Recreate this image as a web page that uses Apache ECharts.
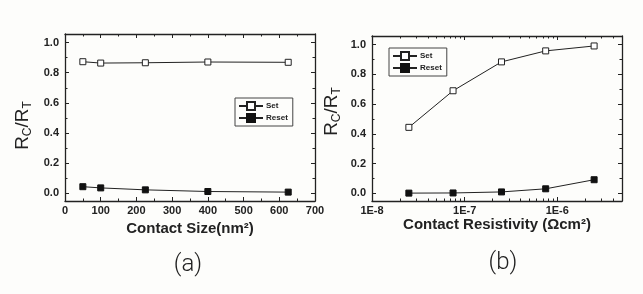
<!DOCTYPE html>
<html>
<head>
<meta charset="utf-8">
<script src="https://cdn.jsdelivr.net/npm/echarts@6/dist/echarts.min.js"></script>
<style>
html, body { margin: 0; padding: 0; background: #fdfdfb; }
#main { width: 643px; height: 294px; }
</style>
</head>
<body>
<div id="main"></div>
<script>
// (a) contact size
var sizeX = [50, 100, 225, 400, 625];
var sizeSet = [0.873, 0.864, 0.866, 0.871, 0.869];
var sizeReset = [0.043, 0.035, 0.022, 0.011, 0.007];
var sizeTicks = [0, 100, 200, 300, 400, 500, 600, 700];
var sizeMinor = [50, 150, 250, 350, 450, 550, 650];

// (b) contact resistivity
var resX = [2.5e-8, 7.5e-8, 2.5e-7, 7.5e-7, 2.5e-6];
var resSet = [0.443, 0.689, 0.883, 0.957, 0.990];
var resReset = [0.001, 0.002, 0.009, 0.030, 0.091];
var resTicks = [1e-8, 1e-7, 1e-6];
var resMinor = [2e-8, 3e-8, 4e-8, 5e-8, 6e-8, 7e-8, 8e-8, 9e-8,
                2e-7, 3e-7, 4e-7, 5e-7, 6e-7, 7e-7, 8e-7, 9e-7,
                2e-6, 3e-6, 4e-6];

// ratio axis
var yTicks = [0, 0.2, 0.4, 0.6, 0.8, 1.0];
var yMinor = [0.1, 0.3, 0.5, 0.7, 0.9];

var ink = '#222';
var font = 'Liberation Sans, Arial, sans-serif';

function pairs(xs, ys) {
    return xs.map(function (x, i) { return [x, ys[i]]; });
}

// one axis: ticks only, or ticks + line + labels
function makeAxis(grid, type, min, max, pos, ticks, len, withLine, label) {
    return {
        type: type,
        gridIndex: grid,
        min: min,
        max: max,
        position: pos,
        axisLine: { show: withLine, onZero: false, lineStyle: { color: ink, width: 1.3 } },
        axisTick: { show: true, inside: true, length: len, customValues: ticks,
                    lineStyle: { color: ink, width: 1 } },
        axisLabel: label ? label : { show: false },
        splitLine: { show: false }
    };
}

function tickLabel(ticks, margin, fmt) {
    return {
        show: true,
        customValues: ticks,
        margin: margin,
        color: ink,
        fontFamily: font,
        fontWeight: 'bold',
        fontSize: 11,
        formatter: fmt
    };
}

var yMin = -0.052, yMax = 1.057;
var yFmt = function (v) { return v.toFixed(1); };
var expFmt = function (v) { return '1E' + Math.round(Math.log10(v)); };

var xAxes = [
    // grid 0
    makeAxis(0, 'value', 0, 700, 'bottom', sizeTicks, 4, true, tickLabel(sizeTicks, 4, function (v) { return String(v); })),
    makeAxis(0, 'value', 0, 700, 'bottom', sizeMinor, 2.5, false),
    makeAxis(0, 'value', 0, 700, 'top', sizeTicks, 4, true),
    makeAxis(0, 'value', 0, 700, 'top', sizeMinor, 2.5, false),
    // grid 1
    makeAxis(1, 'log', 1e-8, 5e-6, 'bottom', resTicks, 4, true, tickLabel(resTicks, 4, expFmt)),
    makeAxis(1, 'log', 1e-8, 5e-6, 'bottom', resMinor, 2.5, false),
    makeAxis(1, 'log', 1e-8, 5e-6, 'top', resTicks, 4, true),
    makeAxis(1, 'log', 1e-8, 5e-6, 'top', resMinor, 2.5, false)
];
xAxes[0].name = 'Contact Size(nm\u00B2)';
xAxes[4].name = 'Contact Resistivity (\u03A9cm\u00B2)';
[0, 4].forEach(function (i) {
    xAxes[i].nameLocation = 'middle';
    xAxes[i].nameMoveOverlap = false;
    xAxes[i].nameGap = i === 0 ? 20 : 16;
    xAxes[i].nameTextStyle = { color: ink, fontFamily: font, fontWeight: 'bold', fontSize: 15 };
});

var yAxes = [];
[0, 1].forEach(function (g) {
    yAxes.push(makeAxis(g, 'value', yMin, yMax, 'left', yTicks, 4, true, tickLabel(yTicks, 6, yFmt)));
    yAxes.push(makeAxis(g, 'value', yMin, yMax, 'left', yMinor, 2.5, false));
    yAxes.push(makeAxis(g, 'value', yMin, yMax, 'right', yTicks, 4, true));
    yAxes.push(makeAxis(g, 'value', yMin, yMax, 'right', yMinor, 2.5, false));
});
[0, 4].forEach(function (i) {
    yAxes[i].name = '{r|R}{s|C}{r|/R}{s|T}';
    yAxes[i].nameLocation = 'middle';
    yAxes[i].nameRotate = 90;
    yAxes[i].nameMoveOverlap = false;
    yAxes[i].nameGap = i === 0 ? 31 : 29;
    yAxes[i].nameTextStyle = {
        color: ink,
        padding: i === 0 ? [0, 16, 0, 0] : [0, 0, 0, 14],
        rich: {
            r: { fontFamily: font, fontSize: 19, color: ink, lineHeight: 22 },
            s: { fontFamily: font, fontSize: 12, color: ink, lineHeight: 22, verticalAlign: 'bottom', padding: [6, 0, 0, 0] }
        }
    };
});

var openMark = { color: '#fff', borderColor: ink, borderWidth: 1 };
var fillMark = { color: '#111', borderColor: '#111', borderWidth: 1 };

function line(name, x, y, grid, mark) {
    return {
        name: name,
        type: 'line',
        xAxisIndex: grid * 4,
        yAxisIndex: grid * 4,
        data: pairs(x, y),
        symbol: 'rect',
        symbolSize: 6,
        itemStyle: mark,
        lineStyle: { color: ink, width: 1 },
        z: mark === openMark ? 3 : 2
    };
}

function legendAt(left, top) {
    return {
        left: left,
        top: top,
        orient: 'vertical',
        data: ['Set', 'Reset'],
        itemWidth: 24,
        itemHeight: 10,
        itemGap: 2,
        padding: [3, 5, 3, 3],
        borderColor: '#444',
        borderWidth: 1,
        selectedMode: false,
        textStyle: { color: ink, fontFamily: font, fontWeight: 'bold', fontSize: 8, padding: [0, 0, 0, -2] }
    };
}

var option = {
    backgroundColor: '#fdfdfb',
    animation: false,
    grid: [
        { left: 65, top: 34, width: 250, height: 167 },
        { left: 372, top: 36, width: 250, height: 165 }
    ],
    xAxis: xAxes,
    yAxis: yAxes,
    legend: [legendAt(235, 98), legendAt(389, 48)],
    series: [
        line('Set', sizeX, sizeSet, 0, openMark),
        line('Reset', sizeX, sizeReset, 0, fillMark),
        line('Set', resX, resSet, 1, openMark),
        line('Reset', resX, resReset, 1, fillMark)
    ],
    graphic: [
        { type: 'text', x: 188, y: 265, style: { text: '(a)', align: 'center', verticalAlign: 'middle',
          fill: ink, font: '300 24px Roboto, "Liberation Sans", sans-serif' } },
        { type: 'text', x: 503, y: 263, style: { text: '(b)', align: 'center', verticalAlign: 'middle',
          fill: ink, font: '300 24px Roboto, "Liberation Sans", sans-serif' } }
    ]
};

var chart = echarts.init(document.getElementById('main'));
chart.setOption(option);
</script>
</body>
</html>
